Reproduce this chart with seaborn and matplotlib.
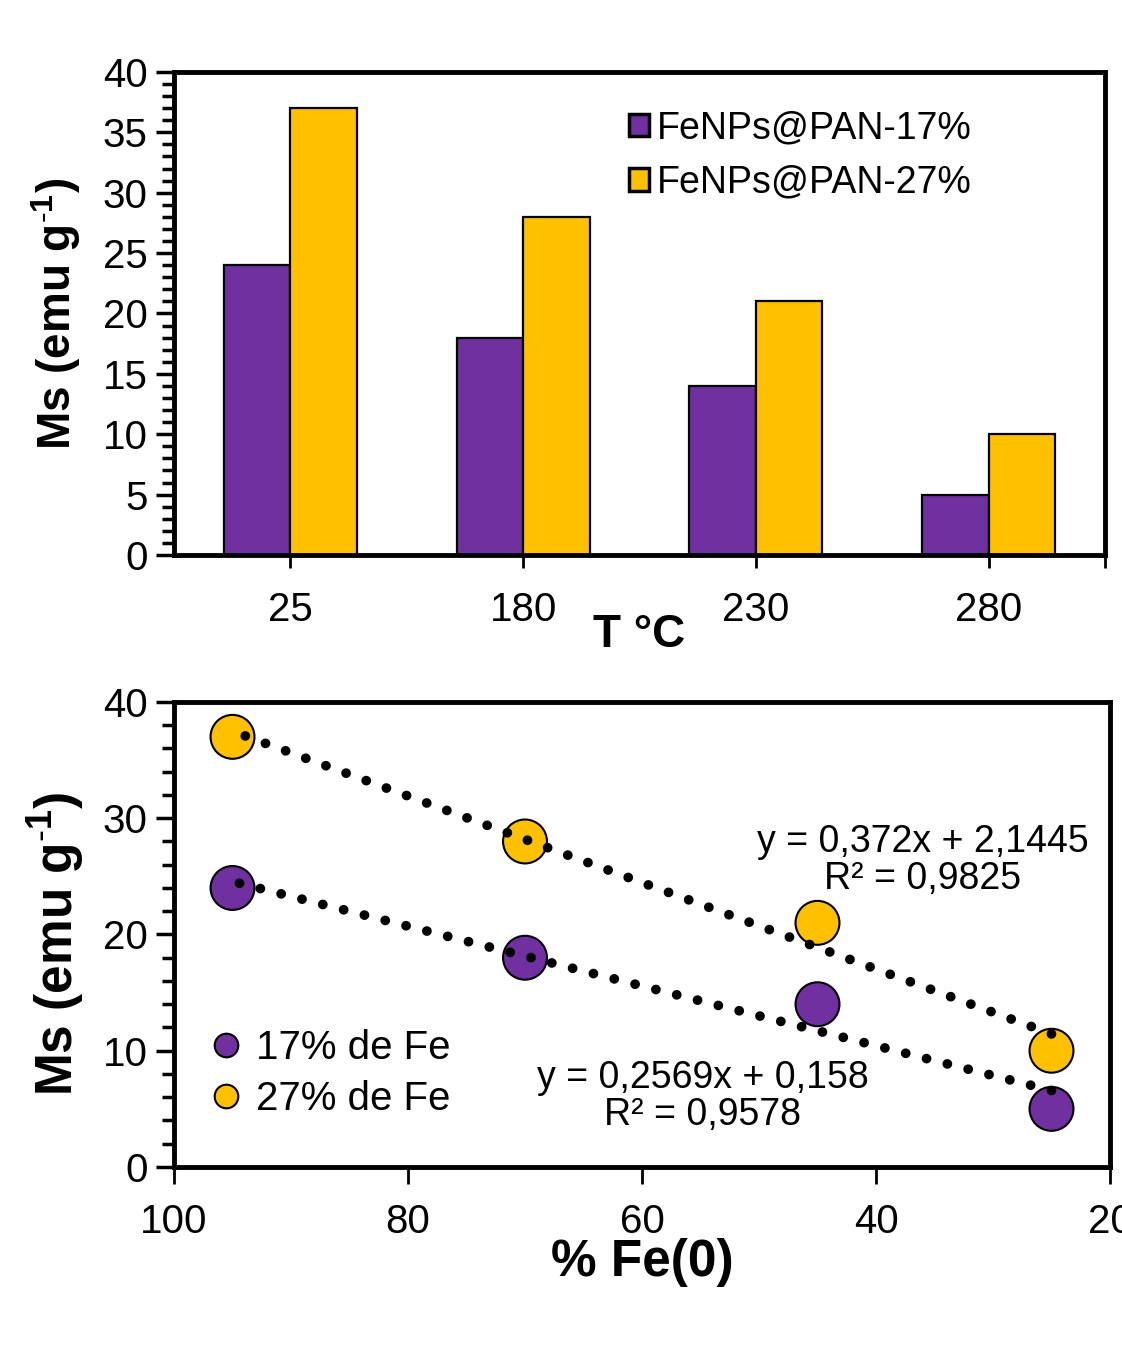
import numpy as np
import pandas as pd
import matplotlib
matplotlib.use("Agg")
import matplotlib.pyplot as plt
from matplotlib.ticker import MultipleLocator
import seaborn as sns

# data
temps = ["25", "180", "230", "280"]
ms_17 = [24, 18, 14, 5]
ms_27 = [37, 28, 21, 10]
fe0_17 = [95, 70, 45, 25]
fe0_27 = [95, 70, 45, 25]
bar_labels = ["FeNPs@PAN-17%", "FeNPs@PAN-27%"]
pt_labels = ["17% de Fe", "27% de Fe"]
eq_17 = "y = 0,2569x + 0,158\nR² = 0,9578"
eq_27 = "y = 0,372x + 2,1445\nR² = 0,9825"

purple = "#7030A0"
yellow = "#FFC000"

sns.set_style("white")
plt.rcParams["font.family"] = ["Liberation Sans", "DejaVu Sans"]
plt.rcParams["mathtext.fontset"] = "custom"
plt.rcParams["mathtext.rm"] = "Liberation Sans"
plt.rcParams["mathtext.bf"] = "Liberation Sans:bold"
plt.rcParams["text.color"] = "black"
plt.rcParams["xtick.color"] = "black"
plt.rcParams["ytick.color"] = "black"
plt.rcParams["axes.labelcolor"] = "black"

ylab = r"Ms (emu g$^{\mathbf{\text{-}1}}$)"

fig = plt.figure(figsize=(11.22, 13.63), dpi=100)
ax1 = fig.add_axes([0.1551, 0.5928, 0.8297, 0.3544])
ax2 = fig.add_axes([0.1551, 0.1438, 0.8342, 0.3412])

# ---- top: bar chart
df_bar = pd.DataFrame({
    "T": temps * 2,
    "Ms": ms_17 + ms_27,
    "serie": [bar_labels[0]] * 4 + [bar_labels[1]] * 4,
})
sns.barplot(data=df_bar, x="T", y="Ms", hue="serie", palette=[purple, yellow],
            width=0.572, edgecolor="black", linewidth=1.6, ax=ax1, saturation=1)
ax1.set_xlim(-0.5, 3.5)
ax1.set_ylim(0, 40)
ax1.yaxis.set_major_locator(MultipleLocator(5))
ax1.yaxis.set_minor_locator(MultipleLocator(1))
ax1.set_xticks([0, 1, 2, 3])
ax1.set_xticks([3.5], minor=True)
ax1.tick_params(axis="y", which="major", direction="out", length=13, width=2.5,
                labelsize=29, pad=6, left=True)
ax1.tick_params(axis="y", which="minor", direction="out", length=9, width=2.5, left=True)
ax1.tick_params(axis="x", which="both", direction="out", length=9, width=2,
                labelsize=29, pad=17, bottom=True)
ax1.set_ylabel(ylab, fontsize=33, fontweight="bold")
ax1.yaxis.set_label_coords(-0.098, 0.5)
ax1.set_xlabel("T °C", fontsize=33, fontweight="bold")
ax1.xaxis.set_label_coords(0.5, -0.12)
for s in ax1.spines.values():
    s.set_linewidth(3.5)
    s.set_color("black")
leg = ax1.legend(loc="upper right", bbox_to_anchor=(0.873, 0.952), frameon=False,
                 fontsize=27, handlelength=0.55, handleheight=0.55,
                 handletextpad=0.2, labelspacing=0.5, borderaxespad=0)
for h in leg.legend_handles:
    h.set_linewidth(2.5)

# ---- bottom: scatter + linear trend
df_pts = pd.DataFrame({
    "Fe0": fe0_17 + fe0_27,
    "Ms": ms_17 + ms_27,
    "serie": [pt_labels[0]] * 4 + [pt_labels[1]] * 4,
})
sns.scatterplot(data=df_pts, x="Fe0", y="Ms", hue="serie", palette=[purple, yellow],
                s=1000, edgecolor="black", linewidth=1.5, ax=ax2, zorder=3, legend=False)
for xs, ys in [(fe0_17, ms_17), (fe0_27, ms_27)]:
    sns.regplot(x=np.array(xs), y=np.array(ys), ci=None, scatter=False, ax=ax2,
                line_kws={"color": "black", "linewidth": 7, "linestyle": (0, (0.01, 2.2)),
                          "dash_capstyle": "round", "zorder": 4})
ax2.set_xlim(100, 20)
ax2.set_ylim(0, 40)
ax2.xaxis.set_major_locator(MultipleLocator(20))
ax2.yaxis.set_major_locator(MultipleLocator(10))
ax2.yaxis.set_minor_locator(MultipleLocator(2))
ax2.tick_params(axis="y", which="major", direction="out", length=13, width=2.5,
                labelsize=29, pad=6, left=True)
ax2.tick_params(axis="y", which="minor", direction="out", length=9, width=2.5, left=True)
ax2.tick_params(axis="x", which="major", direction="out", length=12, width=2,
                labelsize=29, pad=14, bottom=True)
ax2.set_ylabel(ylab, fontsize=37, fontweight="bold")
ax2.yaxis.set_label_coords(-0.093, 0.48)
ax2.set_xlabel("% Fe(0)", fontsize=37, fontweight="bold")
ax2.xaxis.set_label_coords(0.5, -0.152)
for s in ax2.spines.values():
    s.set_linewidth(3.5)
    s.set_color("black")
# equation labels placed in axes fractions
ax2.text(0.8, 0.738, eq_27, transform=ax2.transAxes, fontsize=27, ha="center", va="top",
         linespacing=1.05)
ax2.text(0.565, 0.23, eq_17, transform=ax2.transAxes, fontsize=27, ha="center", va="top",
         linespacing=1.05)

handles = [plt.Line2D([], [], marker="o", ls="", markersize=17, markerfacecolor=c,
                      markeredgecolor="black", markeredgewidth=1.5) for c in (purple, yellow)]
ax2.legend(handles, pt_labels, loc="lower left", bbox_to_anchor=(0.025, 0.07), frameon=False,
           fontsize=29, handlelength=0.6, handletextpad=0.45, labelspacing=0.32,
           borderaxespad=0)

fig.savefig("out.png", dpi=100)
